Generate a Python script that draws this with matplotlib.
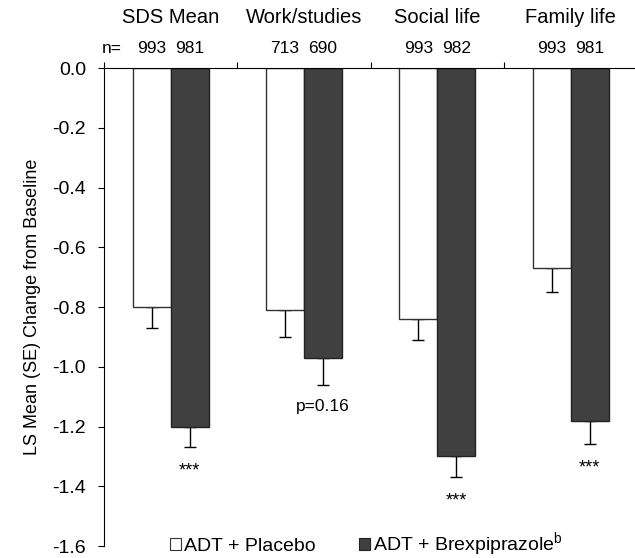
import numpy as np
import matplotlib.pyplot as plt
from matplotlib.patches import Patch

plt.rcParams['font.family'] = ['Liberation Sans', 'DejaVu Sans']
plt.rcParams['mathtext.fontset'] = 'custom'
plt.rcParams['mathtext.rm'] = 'Liberation Sans'

# data
categories = ['SDS Mean', 'Work/studies', 'Social life', 'Family life']
n_placebo = [993, 713, 993, 993]
n_brex = [981, 690, 982, 981]
placebo = [-0.80, -0.81, -0.84, -0.67]
placebo_se = [0.07, 0.09, 0.07, 0.08]
brex = [-1.20, -0.97, -1.30, -1.18]
brex_se = [0.07, 0.09, 0.07, 0.08]
sig_labels = ['***', 'p=0.16', '***', '***']
yticks = [0.0, -0.2, -0.4, -0.6, -0.8, -1.0, -1.2, -1.4, -1.6]

fig = plt.figure(figsize=(6.35, 5.58), dpi=100)
ax = fig.add_axes([0.1638, 0.0215, 0.840, 0.8566])

x = np.arange(len(categories)) + 0.5
w = 0.285
zeros = np.zeros(len(categories))

ax.bar(x - w / 2, placebo, w, color='white', edgecolor='#333333', linewidth=1.0, zorder=2)
ax.bar(x + w / 2, brex, w, color='#404040', edgecolor='#222222', linewidth=1.0, zorder=2)
# one-sided (downward) error bars
ax.errorbar(x - w / 2, placebo, yerr=[placebo_se, zeros], fmt='none', ecolor='black',
            elinewidth=1.0, capsize=4.3, capthick=1.0, zorder=1)
ax.errorbar(x + w / 2, brex, yerr=[brex_se, zeros], fmt='none', ecolor='black',
            elinewidth=1.0, capsize=4.3, capthick=1.0, zorder=1)

# significance labels under the brexpiprazole bars
for xi, v, se, lab in zip(x + w / 2, brex, brex_se, sig_labels):
    if lab == '***':
        ax.annotate(lab, (xi, v - se), xytext=(0, -17), textcoords='offset points',
                    ha='center', va='center', fontsize=13, annotation_clip=False)
    else:
        ax.annotate(lab, (xi, v - se), xytext=(0, -16), textcoords='offset points',
                    ha='center', va='center', fontsize=12.5, annotation_clip=False)

# category titles and n counts above the axis
for xi, cat, n1, n2 in zip(x, categories, n_placebo, n_brex):
    ax.text(xi, 0.168, cat, ha='center', va='center', fontsize=14.5, clip_on=False)
    ax.text(xi - w / 2, 0.065, str(n1), ha='center', va='center', fontsize=12.5, clip_on=False)
    ax.text(xi + w / 2, 0.065, str(n2), ha='center', va='center', fontsize=12.5, clip_on=False)
ax.text(0.13, 0.065, 'n=', ha='right', va='center', fontsize=12.5, clip_on=False)

ax.set_xlim(0, 4)
ax.set_ylim(-1.6, 0)
ax.set_yticks(yticks)
ax.set_yticklabels(['%.1f' % t for t in yticks], fontsize=14)
ax.set_ylabel('LS Mean (SE) Change from Baseline', fontsize=13, labelpad=8)

ax.xaxis.tick_top()
ax.set_xticks([0, 1, 2, 3, 4])
ax.set_xticklabels([])
ax.tick_params(axis='x', direction='out', length=4.5, width=0.8)
ax.tick_params(axis='y', direction='out', length=4.5, width=0.8, pad=8.5)
ax.spines['right'].set_visible(False)
ax.spines['bottom'].set_visible(False)

handles = [Patch(facecolor='white', edgecolor='#333333', linewidth=0.8),
           Patch(facecolor='#404040', edgecolor='#222222', linewidth=0.8)]
fig.legend(handles, ['ADT + Placebo', 'ADT + Brexpiprazole$^{\\mathrm{b}}$'],
           loc='center', bbox_to_anchor=(0.577, 0.024), ncol=2, frameon=False,
           fontsize=14, handlelength=0.6, handleheight=0.6, handletextpad=0.15,
           columnspacing=2.2, borderpad=0, borderaxespad=0)

fig.savefig('out.png', dpi=100)
